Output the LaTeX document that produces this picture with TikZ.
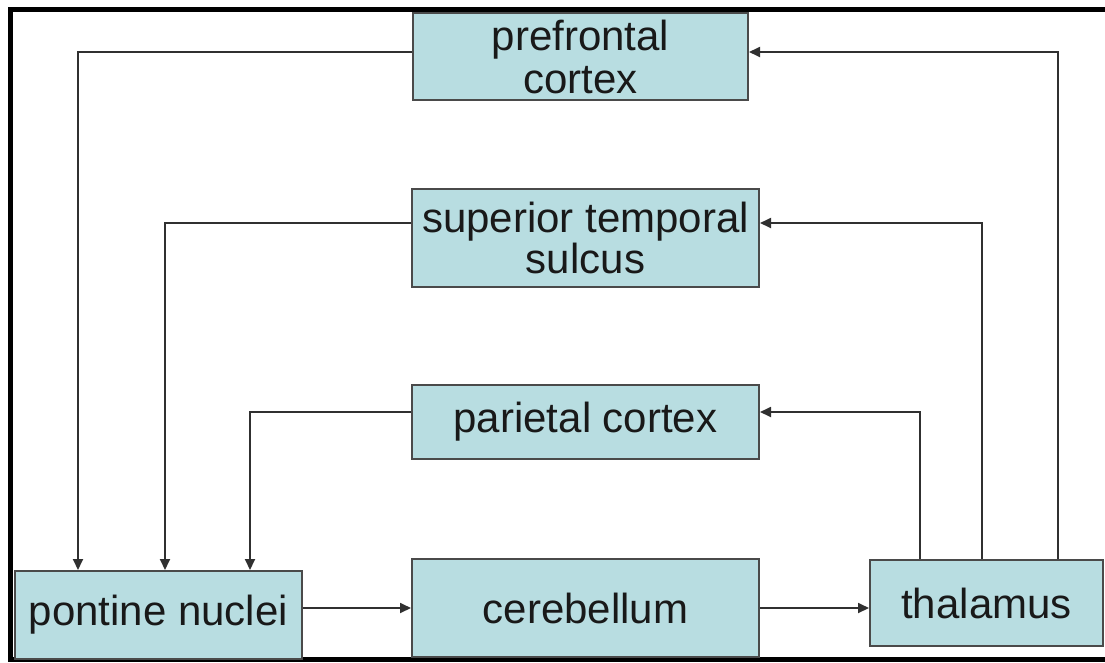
\documentclass[tikz,border=0pt]{standalone}
\usepackage{fontspec}
\setmainfont{Liberation Sans}
\usetikzlibrary{arrows.meta}
\definecolor{boxfill}{HTML}{B8DDE1}
\definecolor{boxline}{HTML}{4A4A4A}
\definecolor{linecol}{HTML}{303030}
\begin{document}
\begin{tikzpicture}[x=1pt,y=-1pt,
  region/.style={draw=boxline,line width=2pt,fill=boxfill,inner sep=0pt,align=center,
    font=\fontsize{42}{37}\selectfont,text=black!90},
  arr/.style={draw=linecol,line width=1.8pt,-{Triangle[length=11pt,width=10pt]}},
  frame/.style={draw=black,line width=5pt}]
\useasboundingbox (0,0) rectangle (1105,662);
\draw[frame] (10.5,7) -- (10.5,662);
\draw[frame] (8,9.5) -- (1105,9.5);
\draw[frame] (8,659.5) -- (1105,659.5);

\node[region,minimum width=335pt,minimum height=87pt,font=\fontsize{42}{43}\selectfont] (pf) at (580.5,56.5) {prefrontal\\cortex};
\node[region,minimum width=347pt,minimum height=98pt,font=\fontsize{42}{38}\selectfont] (sts) at (585.5,238) {superior temporal\\sulcus};
\node[region,minimum width=347pt,minimum height=74pt] (par) at (585.5,422) {parietal cortex};
\node[region,minimum width=287pt,minimum height=88pt] (pn) at (158.5,615) {pontine nuclei};
\node[region,minimum width=347pt,minimum height=98pt] (cb) at (585.5,608) {cerebellum};
\node[region,minimum width=233pt,minimum height=86pt] (th) at (986.5,603) {thalamus};

\draw[arr] ([yshift=4.5pt]pf.west) -| ([xshift=-80.5pt]pn.north);
\draw[arr] ([yshift=15pt]sts.west) -| ([xshift=6.5pt]pn.north);
\draw[arr] ([yshift=10pt]par.west) -| ([xshift=91.5pt]pn.north);
\draw[arr] (pn.east|-cb.west) -- (cb.west);
\draw[arr] (cb.east) -- (cb.east-|th.west);
\draw[arr] ([xshift=71.5pt]th.north) |- ([yshift=4.5pt]pf.east);
\draw[arr] ([xshift=-4.5pt]th.north) |- ([yshift=15pt]sts.east);
\draw[arr] ([xshift=-66.5pt]th.north) |- ([yshift=10pt]par.east);
\end{tikzpicture}
\end{document}
